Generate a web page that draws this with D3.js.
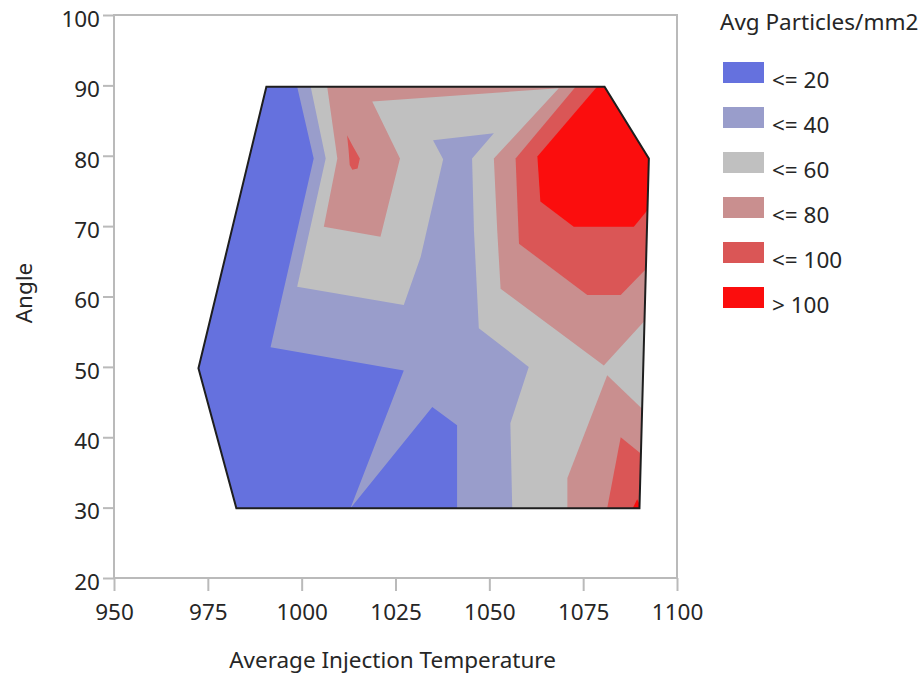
<!DOCTYPE html>
<html>
<head>
<meta charset="utf-8">
<script src="https://cdn.jsdelivr.net/npm/d3@7"></script>
<style>
body { margin: 0; background: #fff; }
text { font-family: "Noto Sans", sans-serif; fill: #262626; }
</style>
</head>
<body>
<svg id="chart" width="924" height="676"></svg>
<script>
// axis ticks
var xTicks = [950, 975, 1000, 1025, 1050, 1075, 1100];
var yTicks = [20, 30, 40, 50, 60, 70, 80, 90, 100];

// contour bands
var levelLabels = ["<= 20", "<= 40", "<= 60", "<= 80", "<= 100", "> 100"];
var levelColors = ["#6571de", "#999dcb", "#c0c0c0", "#c98f8f", "#da5656", "#fb0d0d"];

// [temperature, angle] outline of the measured area
var hull = [[990.6, 89.8], [1080.7, 89.8], [1092.5, 79.6], [1090.0, 29.9], [982.6, 29.9], [972.5, 49.8]];

// regions above each threshold (drawn on top of each other)
var over20 = [
  [[998.8, 89.8], [1080.7, 89.8], [1092.5, 79.6], [1090.0, 29.9], [1041.4, 29.9], [1041.4, 41.7],
   [1034.8, 44.3], [1013.0, 29.9], [1027.2, 49.5], [991.7, 52.8], [1003.2, 79.6]]
];
var over40 = [
  [[1002.4, 89.8], [1080.7, 89.8], [1092.5, 79.6], [1090.0, 29.9], [1056.1, 29.9], [1055.6, 42.0],
   [1060.5, 50.0], [1047.2, 55.5], [1045.9, 69.4], [1045.4, 79.6], [1051.2, 83.2], [1035.0, 82.2],
   [1037.7, 79.5], [1031.7, 65.6], [1027.2, 58.8], [998.8, 61.4], [1006.4, 79.6]]
];
var over60 = [
  [[1006.8, 89.8], [1080.7, 89.8], [1092.5, 79.6], [1092.0, 56.9], [1080.5, 50.2], [1053.0, 61.1],
   [1052.1, 69.4], [1051.2, 79.6], [1068.5, 89.6], [1018.8, 87.7], [1026.2, 79.6], [1021.0, 68.5],
   [1005.9, 69.9], [1009.5, 79.6]],
  [[1081.4, 48.8], [1091.4, 43.7], [1090.0, 29.9], [1070.8, 29.9], [1070.8, 34.2]]
];
var over80 = [
  [[1073.0, 89.8], [1080.7, 89.8], [1092.5, 79.6], [1092.3, 64.2], [1085.0, 60.2], [1076.1, 60.2],
   [1057.9, 67.5], [1057.0, 79.6]],
  [[1012.1, 82.9], [1013.5, 81.5], [1015.5, 79.6], [1014.9, 78.2], [1013.5, 78.0], [1012.8, 78.7], [1012.5, 80.8]],
  [[1085.0, 40.0], [1091.0, 37.4], [1090.0, 29.9], [1081.4, 29.9]]
];
var over100 = [
  [[1078.7, 89.8], [1080.7, 89.8], [1092.5, 79.6], [1092.8, 72.7], [1088.5, 69.9], [1072.5, 69.9],
   [1063.6, 73.5], [1062.8, 79.9]],
  [[1089.4, 31.2], [1090.5, 29.9], [1088.2, 29.9]]
];

var svg = d3.select("#chart");
var axisColor = "#bababa";
var fontSize = 22.5;

var x = d3.scaleLinear().domain([950, 1100]).range([114, 677]);
var y = d3.scaleLinear().domain([20, 100]).range([578, 15]);
var color = d3.scaleOrdinal().domain(levelLabels).range(levelColors);

var line = d3.line()
  .x(function (d) { return x(d[0]); })
  .y(function (d) { return y(d[1]); })
  .curve(d3.curveLinearClosed);

svg.append("defs").append("clipPath").attr("id", "hullClip")
  .append("path").attr("d", line(hull));

// frame
svg.append("rect")
  .attr("x", x(950)).attr("y", y(100))
  .attr("width", x(1100) - x(950)).attr("height", y(20) - y(100))
  .attr("fill", "none").attr("stroke", axisColor).attr("stroke-width", 2);

// filled bands
var plot = svg.append("g").attr("clip-path", "url(#hullClip)");
var bands = [[hull], over20, over40, over60, over80, over100];
bands.forEach(function (rings, i) {
  plot.selectAll(null).data(rings).enter().append("path")
    .attr("d", line)
    .attr("fill", color(levelLabels[i]));
});

svg.append("path")
  .attr("d", line(hull))
  .attr("fill", "none")
  .attr("stroke", "#1e1e1e")
  .attr("stroke-width", 2);

// axes
var xAxis = svg.append("g")
  .attr("transform", "translate(0," + y(20) + ")")
  .call(d3.axisBottom(x).tickValues(xTicks).tickSize(13).tickSizeOuter(0).tickFormat(d3.format("d")));
xAxis.select(".domain").remove();
xAxis.selectAll("line").attr("stroke", axisColor).attr("stroke-width", 2);
xAxis.selectAll("text").attr("y", 42).attr("dy", null);

var yAxis = svg.append("g")
  .attr("transform", "translate(" + x(950) + ",0)")
  .call(d3.axisLeft(y).tickValues(yTicks).tickSize(11).tickPadding(3).tickSizeOuter(0));
yAxis.select(".domain").remove();
yAxis.selectAll("line").attr("stroke", axisColor).attr("stroke-width", 2);
yAxis.selectAll("text").attr("dy", "0.5em");

svg.selectAll(".tick text")
  .attr("font-family", "Noto Sans, sans-serif")
  .attr("font-size", fontSize);

svg.append("text")
  .attr("x", (x(950) + x(1100)) / 2 - 3)
  .attr("y", 668)
  .attr("text-anchor", "middle")
  .attr("font-size", fontSize)
  .text("Average Injection Temperature");

svg.append("text")
  .attr("transform", "translate(32," + 293 + ") rotate(-90)")
  .attr("text-anchor", "middle")
  .attr("font-size", fontSize)
  .text("Angle");

// legend
var legend = svg.append("g").attr("transform", "translate(720,0)");
legend.append("text")
  .attr("x", 0).attr("y", 30)
  .attr("font-size", fontSize)
  .text("Avg Particles/mm2");

var item = legend.selectAll(".legend-item")
  .data(levelLabels)
  .enter().append("g")
  .attr("class", "legend-item")
  .attr("transform", function (d, i) { return "translate(3," + (62 + i * 45) + ")"; });

item.append("rect")
  .attr("width", 41).attr("height", 21)
  .attr("fill", function (d) { return color(d); });

item.append("text")
  .attr("x", 49).attr("y", 25.5)
  .attr("font-size", fontSize)
  .text(function (d) { return d; });
</script>
</body>
</html>
